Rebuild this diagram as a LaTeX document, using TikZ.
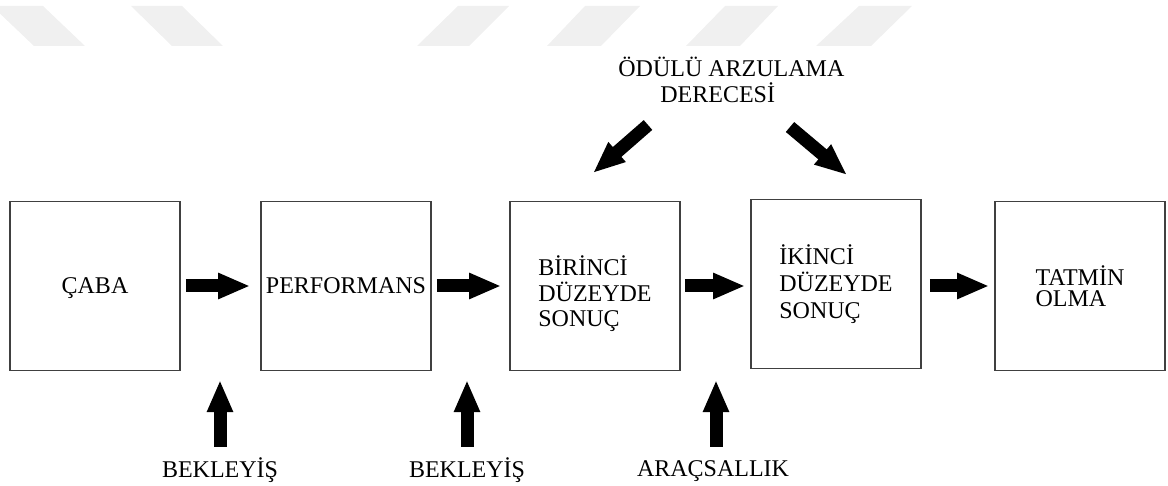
\documentclass[tikz,border=0pt]{standalone}
\usepackage{fontspec}
\setmainfont{Liberation Serif}
\usetikzlibrary{positioning,arrows.meta}
\tikzstyle{stage} = [draw=black!75, line width=0.8pt, minimum width=85pt, minimum height=84.5pt, align=left, inner sep=0pt]
\tikzstyle{factor} = [inner sep=0pt]
\tikzstyle{bigarrow} = [line width=6.5pt, -{Triangle[length=16pt,width=12pt]}]
\tikzstyle{stripe} = [fill=black!6]

\begin{document}
\begin{tikzpicture}[x=0.5pt,y=-0.5pt,font=\fontsize{12}{12.75}\selectfont]
			\useasboundingbox (0,0) rectangle (1168,486);
			% faint stripes along the top
			\fill[stripe] (-8,6) -- (43,6) -- (85,46) -- (34,46) -- cycle;
			\fill[stripe] (131,6) -- (182,6) -- (223,46) -- (172,46) -- cycle;
			\fill[stripe] (458,6) -- (509,6) -- (469,46) -- (417,46) -- cycle;
			\fill[stripe] (585,6) -- (640,6) -- (601,46) -- (547,46) -- cycle;
			\fill[stripe] (725,6) -- (778,6) -- (740,46) -- (686,46) -- cycle;
			\fill[stripe] (859,6) -- (912,6) -- (871,46) -- (816,46) -- cycle;
			% stages
			\node[stage, text depth=0pt] (caba) at (95,286) {ÇABA};
			\node[stage] (perf) at (346,286) {PERFORMANS};
			\node[stage] (bir) at (595,286) {\rule{0pt}{18pt}BİRİNCİ\\DÜZEYDE\\SONUÇ};
			\node[stage, font=\fontsize{12}{13.5}\selectfont] (iki) at (836,284) {İKİNCİ\\DÜZEYDE\\SONUÇ};
			\node[stage, font=\fontsize{12}{10.5}\selectfont] (tat) at (1080,286) {TATMİN\\OLMA};
			% factors
			\node[factor, align=left, anchor=west] (odul) at (618,80) {ÖDÜLÜ ARZULAMA\\\hspace*{21pt}DERECESİ};
			\node[factor, anchor=base] (bek1) at (220,477) {BEKLEYİŞ};
			\node[factor, anchor=base] (bek2) at (467,477) {BEKLEYİŞ};
			\node[factor, anchor=base] (arac) at (713,476) {ARAÇSALLIK};
			\coordinate (m1) at (220,380);
			\coordinate (m2) at (467,380);
			\coordinate (m3) at (716,380);
			\coordinate (o1) at (648,125);
			\coordinate (o2) at (593,173);
			\coordinate (o3) at (790,127);
			\coordinate (o4) at (847,175);
			% arrows
			\draw[bigarrow, shorten <=2.5pt, shorten >=5pt] (caba) -- (perf);
			\draw[bigarrow, shorten <=2.5pt, shorten >=4pt] (perf) -- (bir);
			\draw[bigarrow, shorten <=2pt, shorten >=2.5pt] (bir) -- (bir -| iki.west);
			\draw[bigarrow, shorten <=4pt, shorten >=2.5pt] (iki.east |- tat) -- (tat);
			\draw[bigarrow, shorten <=5pt] (bek1) -- (m1);
			\draw[bigarrow, shorten <=5pt] (bek2) -- (m2);
			\draw[bigarrow, shorten <=6.5pt] (arac.north -| m3) -- (m3);
			\draw[bigarrow] (o1) -- (o2);
			\draw[bigarrow] (o3) -- (o4);
		\end{tikzpicture}
\end{document}
